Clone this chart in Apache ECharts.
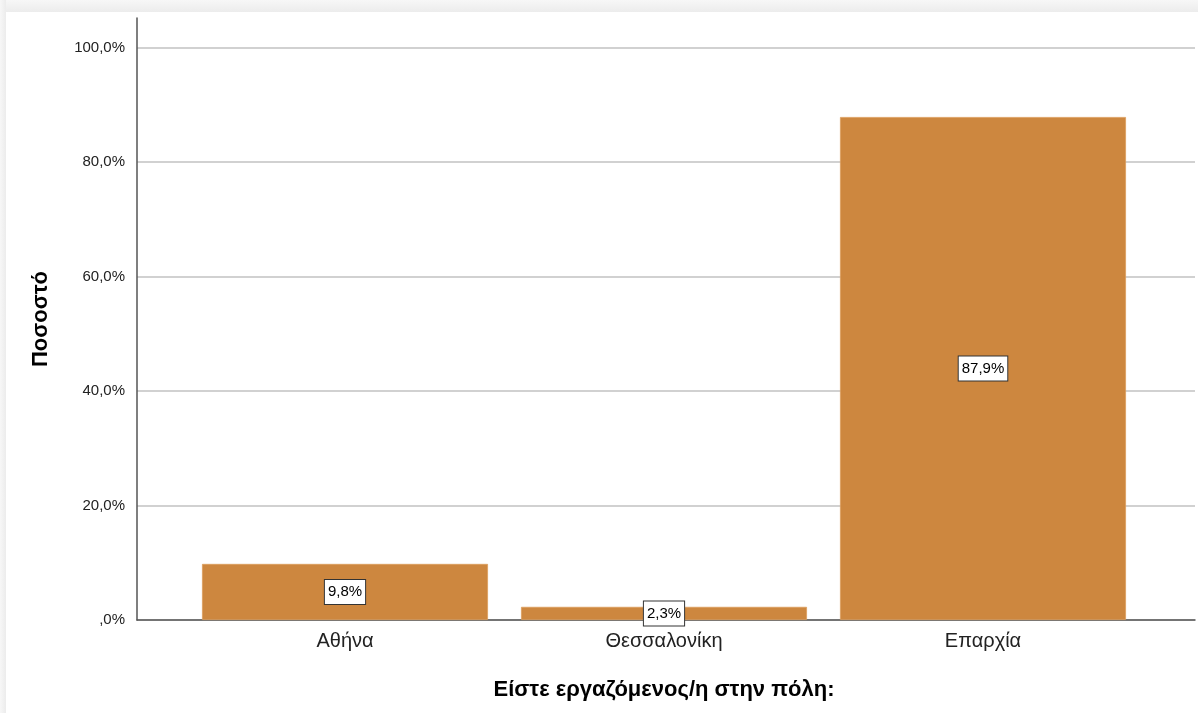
<!DOCTYPE html>
<html>
<head>
<meta charset="utf-8">
<style>
  html, body { margin: 0; padding: 0; background: #ffffff; }
  #chart { width: 1198px; height: 713px; }
</style>
<script src="https://cdn.jsdelivr.net/npm/echarts@6/dist/echarts.min.js"></script>
</head>
<body>
<div id="chart"></div>
<script>
// Πόλη εργασίας – ποσοστά ερωτηθέντων
const categories = ['Αθήνα', 'Θεσσαλονίκη', 'Επαρχία'];
const percentValues = [9.8, 2.3, 87.9];
const yTicks = [0, 20, 40, 60, 80, 100];
const yTitle = 'Ποσοστό';
const xTitle = 'Είστε εργαζόμενος/η στην πόλη:';

const FONT = '"Liberation Sans", Arial, sans-serif';

function pct(v) {
  const s = v.toFixed(1).replace('.', ',');
  return (s.startsWith('0,') ? s.slice(1) : s) + '%';
}

const chart = echarts.init(document.getElementById('chart'), null, { renderer: 'canvas' });

// axis top sits a bit above the 100% line
const yMax = 105.2;
// one split line per tick, plus the extent end which stays hidden
const splitColors = yTicks.map(() => '#c2c2c2').concat(['rgba(0,0,0,0)']);

chart.setOption({
  backgroundColor: '#ffffff',
  animation: false,
  graphic: [
    {
      type: 'rect', silent: true, z: -10,
      shape: { x: 0, y: 0, width: 1198, height: 12 },
      style: {
        fill: new echarts.graphic.LinearGradient(0, 0, 0, 1, [
          { offset: 0, color: '#f7f7f7' },
          { offset: 1, color: '#ececec' }
        ])
      }
    },
    {
      type: 'rect', silent: true, z: -10,
      shape: { x: 0, y: 0, width: 6, height: 713 },
      style: {
        fill: new echarts.graphic.LinearGradient(0, 0, 1, 0, [
          { offset: 0, color: '#f7f7f7' },
          { offset: 1, color: '#ececec' }
        ])
      }
    }
  ],
  grid: [
    // frame with the value axis and gridlines
    { left: 137, right: 3, top: 18, bottom: 93 },
    // band holding the bars
    { left: 185.5, right: 55.5, top: 18, bottom: 93 }
  ],
  xAxis: [
    {
      type: 'value', gridIndex: 0, min: 0, max: 1,
      axisLine: { show: true, lineStyle: { color: '#555555', width: 1.5 } },
      axisTick: { show: false }, axisLabel: { show: false }, splitLine: { show: false }
    },
    {
      type: 'category', gridIndex: 1, data: categories,
      axisLine: { show: false }, axisTick: { show: false },
      axisLabel: { color: '#222222', fontFamily: FONT, fontSize: 20, margin: 11 },
      name: xTitle, nameLocation: 'middle', nameGap: 59,
      nameTextStyle: { color: '#000000', fontFamily: FONT, fontSize: 22, fontWeight: 'bold' }
    }
  ],
  yAxis: [
    {
      type: 'value', gridIndex: 0, min: 0, max: yMax, interval: 20,
      axisLine: { show: true, lineStyle: { color: '#555555', width: 1.5 } },
      axisTick: { show: false },
      axisLabel: {
        color: '#222222', fontFamily: FONT, fontSize: 15, margin: 12,
        formatter: v => (yTicks.includes(v) ? pct(v) : '')
      },
      splitLine: { show: true, lineStyle: { color: splitColors, width: 1.5 } },
      name: yTitle, nameLocation: 'middle', nameGap: 85, nameRotate: 90,
      nameTextStyle: { color: '#000000', fontFamily: FONT, fontSize: 22, fontWeight: 'bold' }
    },
    {
      type: 'value', gridIndex: 1, min: 0, max: yMax, show: false
    }
  ],
  series: [
    {
      type: 'bar', xAxisIndex: 1, yAxisIndex: 1,
      data: percentValues,
      barWidth: 286,
      itemStyle: { color: '#cd873f', borderColor: '#dc9d5c', borderWidth: 0.8 },
      label: {
        show: true, position: 'inside',
        formatter: p => pct(p.value),
        color: '#000000', fontFamily: FONT, fontSize: 15,
        backgroundColor: '#ffffff', borderColor: '#333333', borderWidth: 1,
        padding: [5, 3, 4, 3]
      }
    }
  ]
});
</script>
</body>
</html>
